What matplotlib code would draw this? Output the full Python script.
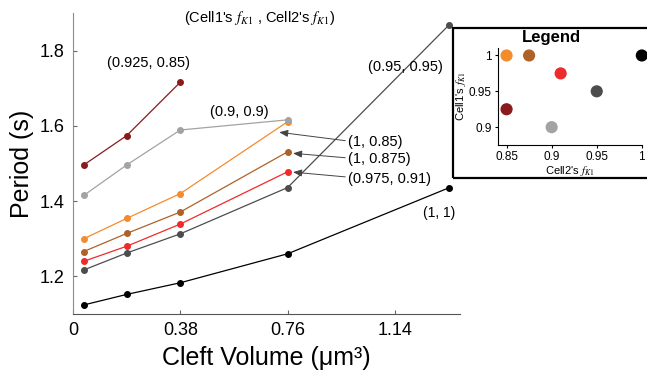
import numpy as np
import matplotlib.pyplot as plt
from matplotlib.patches import Rectangle

plt.rcParams['font.family'] = ['Liberation Sans', 'DejaVu Sans']
plt.rcParams['mathtext.fontset'] = 'stix'

# cleft volume (um^3)
volume = [0.038, 0.19, 0.38, 0.76, 1.33]

# period (s) for each (Cell1 fK1, Cell2 fK1) pair
p_1_1 = [1.124, 1.152, 1.183, 1.260, 1.435]
p_095_095 = [1.217, 1.262, 1.313, 1.436, 1.867]
p_0975_091 = [1.240, 1.280, 1.339, 1.478]
p_1_0875 = [1.266, 1.314, 1.371, 1.531]
p_1_085 = [1.300, 1.354, 1.420, 1.611]
p_09_09 = [1.415, 1.496, 1.589, 1.616]
p_0925_085 = [1.496, 1.574, 1.716]

c_black = '#000000'
c_dgray = '#4d4d4d'
c_red = '#ee2b2b'
c_brown = '#ae6228'
c_orange = '#f58c2c'
c_gray = '#a3a3a3'
c_dred = '#8a1a1c'

series = [
    (p_1_1, c_black),
    (p_095_095, c_dgray),
    (p_0975_091, c_red),
    (p_1_0875, c_brown),
    (p_1_085, c_orange),
    (p_09_09, c_gray),
    (p_0925_085, c_dred),
]

# legend scatter: Cell2 fK1 (x) vs Cell1 fK1 (y)
leg_cell2 = [0.85, 0.875, 1.0, 0.91, 0.95, 0.85, 0.9]
leg_cell1 = [1.0, 1.0, 1.0, 0.975, 0.95, 0.925, 0.9]
leg_colors = [c_orange, c_brown, c_black, c_red, c_dgray, c_dred, c_gray]

fk1 = r'$f_{\mathit{K1}}$'

fig = plt.figure(figsize=(6.47, 3.73), dpi=100)
ax = fig.add_axes([0.1128, 0.1582, 0.598, 0.807])

for vals, col in series:
    ax.plot(volume[:len(vals)], vals, '-o', color=col, lw=0.9, ms=4, clip_on=False)

ax.set_xlim(0, 1.37)
ax.set_ylim(1.1, 1.9)
ax.set_xticks([0, 0.38, 0.76, 1.14])
ax.set_xticklabels(['0', '0.38', '0.76', '1.14'])
ax.set_yticks([1.2, 1.4, 1.6, 1.8])
ax.tick_params(direction='in', length=3, labelsize=13, color='#666666', pad=6)
for s in ['top', 'right']:
    ax.spines[s].set_visible(False)
ax.spines['left'].set_color('#8c8c8c')
ax.spines['bottom'].set_color('#555555')
ax.set_xlabel('Cleft Volume (μm³)', fontsize=18, labelpad=5)
ax.set_ylabel('Period (s)', fontsize=18, labelpad=4)

ax.text(0.483, 0.983, "(Cell1's " + fk1 + " , Cell2's " + fk1 + ")", transform=ax.transAxes,
        ha='center', va='center', fontsize=10.5)
ax.text(0.266, 1.767, '(0.925, 0.85)', ha='center', va='center', fontsize=10.5)
ax.text(0.588, 1.636, '(0.9, 0.9)', ha='center', va='center', fontsize=10.5)
ax.text(1.176, 1.757, '(0.95, 0.95)', ha='center', va='center', fontsize=10.5)
ax.text(1.297, 1.368, '(1, 1)', ha='center', va='center', fontsize=10)

arrow_kw = dict(arrowstyle='-|>,head_length=0.5,head_width=0.2', color='#444444',
                lw=0.7, relpos=(0, 0.6), shrinkA=0, shrinkB=0)
ax.annotate('(1, 0.85)', xy=(0.730, 1.583), xytext=(0.974, 1.556),
            ha='left', va='center', fontsize=10.5, arrowprops=arrow_kw)
ax.annotate('(1, 0.875)', xy=(0.779, 1.527), xytext=(0.974, 1.511),
            ha='left', va='center', fontsize=10.5, arrowprops=arrow_kw)
ax.annotate('(0.975, 0.91)', xy=(0.779, 1.477), xytext=(0.974, 1.460),
            ha='left', va='center', fontsize=10.5, arrowprops=arrow_kw)

# legend box
fig.patches.append(Rectangle((0.700, 0.5228), 0.31, 0.4022, transform=fig.transFigure,
                             fill=False, edgecolor='black', lw=1.6))
fig.text(0.853, 0.9, 'Legend', ha='center', va='center', fontsize=12, fontweight='bold')

lax = fig.add_axes([0.769, 0.611, 0.223, 0.2595])
lax.scatter(leg_cell2, leg_cell1, c=leg_colors, s=60, clip_on=False, zorder=3)
lax.set_xlim(0.84, 1.0)
lax.set_ylim(0.875, 1.01)
lax.set_xticks([0.85, 0.9, 0.95, 1.0])
lax.set_xticklabels(['0.85', '0.9', '0.95', '1'])
lax.set_yticks([0.9, 0.95, 1.0])
lax.set_yticklabels(['0.9', '0.95', '1'])
lax.tick_params(direction='out', length=2.5, labelsize=8.5, pad=1.5)
for s in ['top', 'right']:
    lax.spines[s].set_visible(False)
lax.set_xlabel("Cell2's " + fk1, fontsize=8, labelpad=1)
lax.set_ylabel("Cell1's " + fk1, fontsize=8, labelpad=1)

fig.savefig('out.png', dpi=100)
